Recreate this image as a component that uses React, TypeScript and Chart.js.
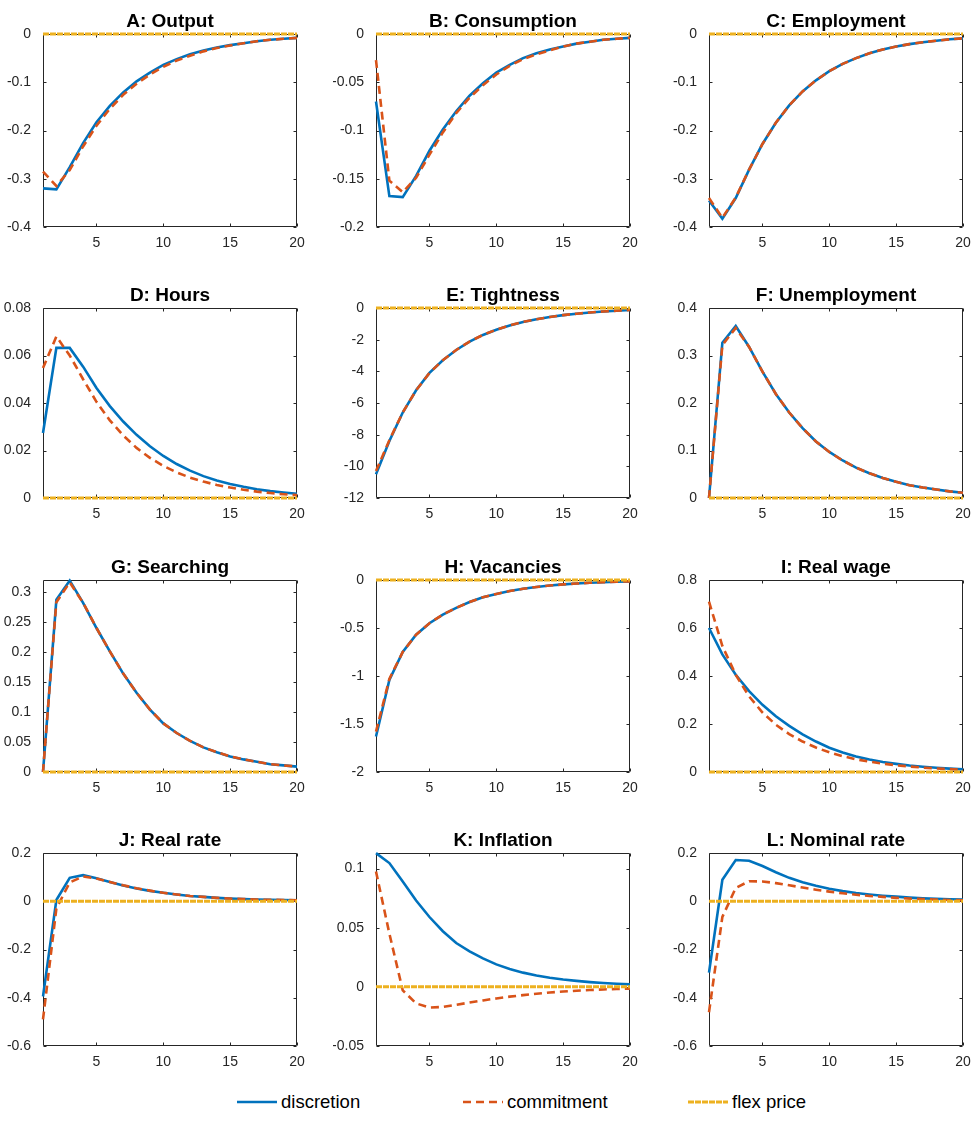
import React, { useEffect, useRef } from "react";
import { Chart, registerables } from "chart.js";
Chart.register(...registerables);

// ---------- data ----------
const periods = [1, 2, 3, 4, 5, 6, 7, 8, 9, 10, 11, 12, 13, 14, 15, 16, 17, 18, 19, 20];
const xTicks = [5, 10, 15, 20];
const flexPrice = [0, 0, 0, 0, 0, 0, 0, 0, 0, 0, 0, 0, 0, 0, 0, 0, 0, 0, 0, 0];

const seriesNames = ["discretion", "commitment", "flex price"];
const panelTitles = [
  "A: Output", "B: Consumption", "C: Employment",
  "D: Hours", "E: Tightness", "F: Unemployment",
  "G: Searching", "H: Vacancies", "I: Real wage",
  "J: Real rate", "K: Inflation", "L: Nominal rate",
];

const outputDiscretion = [-0.320, -0.322, -0.276, -0.226, -0.183, -0.149, -0.121, -0.098, -0.080, -0.064, -0.052, -0.042, -0.034, -0.028, -0.023, -0.019, -0.015, -0.012, -0.010, -0.008];
const outputCommitment = [-0.285, -0.315, -0.282, -0.233, -0.190, -0.155, -0.126, -0.103, -0.084, -0.068, -0.055, -0.045, -0.036, -0.029, -0.024, -0.019, -0.015, -0.012, -0.010, -0.008];
const outputTicks = [-0.4, -0.3, -0.2, -0.1, 0];
const outputLimits = [-0.4, 0];

const consumptionDiscretion = [-0.070, -0.168, -0.169, -0.147, -0.121, -0.099, -0.080, -0.064, -0.051, -0.040, -0.032, -0.025, -0.020, -0.016, -0.013, -0.010, -0.008, -0.006, -0.005, -0.004];
const consumptionCommitment = [-0.027, -0.152, -0.164, -0.149, -0.125, -0.102, -0.082, -0.066, -0.053, -0.042, -0.033, -0.026, -0.021, -0.017, -0.013, -0.010, -0.008, -0.006, -0.005, -0.004];
const consumptionTicks = [-0.2, -0.15, -0.1, -0.05, 0];
const consumptionLimits = [-0.2, 0];

const employmentDiscretion = [-0.345, -0.383, -0.340, -0.281, -0.228, -0.184, -0.148, -0.119, -0.096, -0.077, -0.062, -0.050, -0.040, -0.032, -0.026, -0.021, -0.017, -0.014, -0.011, -0.009];
const employmentCommitment = [-0.340, -0.381, -0.339, -0.281, -0.228, -0.184, -0.148, -0.119, -0.096, -0.077, -0.062, -0.050, -0.040, -0.032, -0.026, -0.021, -0.017, -0.014, -0.011, -0.009];
const employmentTicks = [-0.4, -0.3, -0.2, -0.1, 0];
const employmentLimits = [-0.4, 0];

const hoursDiscretion = [0.0274, 0.0632, 0.0632, 0.0553, 0.0463, 0.0387, 0.0322, 0.0266, 0.0218, 0.0177, 0.0143, 0.0115, 0.0092, 0.0074, 0.0059, 0.0047, 0.0037, 0.0029, 0.0023, 0.0018];
const hoursCommitment = [0.0547, 0.0680, 0.0600, 0.0500, 0.0405, 0.0327, 0.0263, 0.0211, 0.0169, 0.0135, 0.0108, 0.0086, 0.0069, 0.0055, 0.0044, 0.0035, 0.0027, 0.0021, 0.0016, 0.0012];
const hoursTicks = [0, 0.02, 0.04, 0.06, 0.08];
const hoursLimits = [0, 0.08];

const tightnessDiscretion = [-10.5, -8.4, -6.6, -5.2, -4.1, -3.3, -2.65, -2.12, -1.70, -1.37, -1.10, -0.88, -0.71, -0.57, -0.45, -0.36, -0.28, -0.22, -0.17, -0.12];
const tightnessCommitment = [-10.3, -8.35, -6.6, -5.2, -4.1, -3.3, -2.65, -2.12, -1.70, -1.37, -1.10, -0.88, -0.71, -0.57, -0.45, -0.36, -0.28, -0.22, -0.17, -0.12];
const tightnessTicks = [-12, -10, -8, -6, -4, -2, 0];
const tightnessLimits = [-12, 0];

const unemploymentDiscretion = [0, 0.327, 0.362, 0.318, 0.266, 0.219, 0.180, 0.147, 0.119, 0.097, 0.079, 0.064, 0.052, 0.042, 0.034, 0.027, 0.022, 0.018, 0.014, 0.011];
const unemploymentCommitment = [0, 0.322, 0.358, 0.318, 0.266, 0.219, 0.180, 0.147, 0.119, 0.097, 0.079, 0.064, 0.052, 0.042, 0.034, 0.027, 0.022, 0.018, 0.014, 0.011];
const unemploymentTicks = [0, 0.1, 0.2, 0.3, 0.4];
const unemploymentLimits = [0, 0.4];

const searchingDiscretion = [0, 0.287, 0.319, 0.282, 0.240, 0.201, 0.164, 0.132, 0.104, 0.081, 0.065, 0.052, 0.041, 0.033, 0.026, 0.021, 0.017, 0.013, 0.011, 0.009];
const searchingCommitment = [0, 0.283, 0.316, 0.282, 0.240, 0.201, 0.164, 0.132, 0.104, 0.081, 0.065, 0.052, 0.041, 0.033, 0.026, 0.021, 0.017, 0.013, 0.011, 0.009];
const searchingTicks = [0, 0.05, 0.1, 0.15, 0.2, 0.25, 0.3];
const searchingLimits = [0, 0.32];

const vacanciesDiscretion = [-1.63, -1.04, -0.75, -0.57, -0.45, -0.36, -0.29, -0.23, -0.18, -0.145, -0.115, -0.092, -0.073, -0.058, -0.046, -0.037, -0.029, -0.023, -0.018, -0.014];
const vacanciesCommitment = [-1.58, -1.03, -0.75, -0.57, -0.45, -0.36, -0.29, -0.23, -0.18, -0.145, -0.115, -0.092, -0.073, -0.058, -0.046, -0.037, -0.029, -0.023, -0.018, -0.014];
const vacanciesTicks = [-2, -1.5, -1, -0.5, 0];
const vacanciesLimits = [-2, 0];

const wageDiscretion = [0.600, 0.490, 0.405, 0.337, 0.280, 0.232, 0.192, 0.157, 0.127, 0.101, 0.081, 0.065, 0.052, 0.042, 0.034, 0.027, 0.022, 0.018, 0.014, 0.011];
const wageCommitment = [0.710, 0.525, 0.405, 0.315, 0.248, 0.197, 0.158, 0.127, 0.102, 0.082, 0.066, 0.053, 0.043, 0.035, 0.028, 0.023, 0.018, 0.015, 0.012, 0.009];
const wageTicks = [0, 0.2, 0.4, 0.6, 0.8];
const wageLimits = [0, 0.8];

const realRateDiscretion = [-0.395, 0.005, 0.097, 0.108, 0.095, 0.080, 0.065, 0.053, 0.043, 0.035, 0.028, 0.022, 0.018, 0.014, 0.011, 0.009, 0.007, 0.006, 0.005, 0.004];
const realRateCommitment = [-0.490, -0.030, 0.078, 0.103, 0.094, 0.080, 0.066, 0.054, 0.044, 0.035, 0.028, 0.022, 0.018, 0.014, 0.011, 0.009, 0.007, 0.006, 0.005, 0.004];
const realRateTicks = [-0.6, -0.4, -0.2, 0, 0.2];
const realRateLimits = [-0.6, 0.2];

const inflationDiscretion = [0.1130, 0.1046, 0.089, 0.073, 0.059, 0.047, 0.037, 0.030, 0.024, 0.019, 0.015, 0.012, 0.0095, 0.0077, 0.0062, 0.0050, 0.0040, 0.0032, 0.0026, 0.0021];
const inflationCommitment = [0.0975, 0.045, -0.003, -0.014, -0.0175, -0.017, -0.0152, -0.0133, -0.0115, -0.0098, -0.0083, -0.0070, -0.0058, -0.0048, -0.0040, -0.0033, -0.0027, -0.0022, -0.0018, -0.0015];
const inflationTicks = [-0.05, 0, 0.05, 0.1];
const inflationLimits = [-0.05, 0.1131];

const nominalRateDiscretion = [-0.296, 0.089, 0.171, 0.168, 0.146, 0.120, 0.097, 0.079, 0.064, 0.052, 0.042, 0.034, 0.028, 0.023, 0.019, 0.015, 0.012, 0.010, 0.008, 0.007];
const nominalRateCommitment = [-0.460, -0.065, 0.055, 0.083, 0.082, 0.075, 0.066, 0.057, 0.048, 0.040, 0.033, 0.027, 0.022, 0.018, 0.014, 0.011, 0.009, 0.007, 0.005, 0.004];
const nominalRateTicks = [-0.6, -0.4, -0.2, 0, 0.2];
const nominalRateLimits = [-0.6, 0.2];

const panelSeries = [
  [outputDiscretion, outputCommitment, outputTicks, outputLimits],
  [consumptionDiscretion, consumptionCommitment, consumptionTicks, consumptionLimits],
  [employmentDiscretion, employmentCommitment, employmentTicks, employmentLimits],
  [hoursDiscretion, hoursCommitment, hoursTicks, hoursLimits],
  [tightnessDiscretion, tightnessCommitment, tightnessTicks, tightnessLimits],
  [unemploymentDiscretion, unemploymentCommitment, unemploymentTicks, unemploymentLimits],
  [searchingDiscretion, searchingCommitment, searchingTicks, searchingLimits],
  [vacanciesDiscretion, vacanciesCommitment, vacanciesTicks, vacanciesLimits],
  [wageDiscretion, wageCommitment, wageTicks, wageLimits],
  [realRateDiscretion, realRateCommitment, realRateTicks, realRateLimits],
  [inflationDiscretion, inflationCommitment, inflationTicks, inflationLimits],
  [nominalRateDiscretion, nominalRateCommitment, nominalRateTicks, nominalRateLimits],
];

// ---------- styles / layout ----------
const BLUE = "#0072BD";
const RED = "#D95319";
const YELLOW = "#EDB120";
const AXIS = "#262626";
const FONT = "'Liberation Sans', Arial, Helvetica, sans-serif";

const colLefts = [43, 376, 709];
const colWidth = 254;
const rowTops = [34, 308, 580, 853];
const rowHeights = [193, 190, 192, 193];
const PAD_L = 43;
const PAD_T = 34;
const PAD_R = 36;
const PAD_B = 43;

const matlabAxes = {
  id: "matlabAxes",
  beforeDatasetsDraw(chart: any) {
    const { ctx, chartArea: a, scales } = chart;
    ctx.save();
    ctx.strokeStyle = AXIS;
    ctx.lineWidth = 1;
    const L = Math.round(a.left) + 0.5;
    const R = Math.round(a.right) - 0.5;
    const T = Math.round(a.top) + 0.5;
    const B = Math.round(a.bottom) - 0.5;
    ctx.beginPath();
    ctx.rect(L, T, R - L, B - T);
    const tl = 3;
    scales.x.ticks.forEach((t: any) => {
      const px = Math.round(scales.x.getPixelForValue(t.value)) + 0.5;
      ctx.moveTo(px, B);
      ctx.lineTo(px, B - tl);
      ctx.moveTo(px, T);
      ctx.lineTo(px, T + tl);
    });
    scales.y.ticks.forEach((t: any) => {
      const py = Math.round(scales.y.getPixelForValue(t.value)) + 0.5;
      ctx.moveTo(L, py);
      ctx.lineTo(L + tl, py);
      ctx.moveTo(R, py);
      ctx.lineTo(R - tl, py);
    });
    ctx.stroke();
    ctx.restore();
  },
  afterDraw(chart: any, _args: any, opts: any) {
    const { ctx, chartArea: a } = chart;
    ctx.save();
    ctx.fillStyle = "#000";
    ctx.font = `bold 19px ${FONT}`;
    ctx.textAlign = "center";
    ctx.textBaseline = "alphabetic";
    ctx.fillText(opts.title, (a.left + a.right) / 2, a.top - 7);
    ctx.restore();
  },
};

const fmt = (v: number) => String(parseFloat(Number(v).toFixed(6)));

function Panel({ index }: { index: number }) {
  const ref = useRef<HTMLCanvasElement>(null);
  const col = index % 3;
  const row = Math.floor(index / 3);
  const width = PAD_L + colWidth + PAD_R;
  const height = PAD_T + rowHeights[row] + PAD_B;
  useEffect(() => {
    const [disc, comm, ticks, limits] = panelSeries[index] as number[][];
    const toPts = (arr: number[]) => periods.map((p, i) => ({ x: p, y: arr[i] }));
    const chart = new Chart(ref.current as HTMLCanvasElement, {
      type: "line",
      data: {
        datasets: [
          {
            label: seriesNames[0], data: toPts(disc), borderColor: BLUE, borderWidth: 2.6,
            pointRadius: 0, tension: 0, order: 2, clip: false,
          },
          {
            label: seriesNames[1], data: toPts(comm), borderColor: RED, borderWidth: 2.6,
            borderDash: [8, 5], pointRadius: 0, tension: 0, order: 1, clip: false,
          },
          {
            label: seriesNames[2], data: toPts(flexPrice), borderColor: YELLOW, borderWidth: 3,
            borderDash: [6, 1], pointRadius: 0, tension: 0, order: 0, clip: false,
          },
        ],
      },
      options: {
        animation: false,
        responsive: false,
        devicePixelRatio: 1,
        events: [],
        layout: { padding: { left: 0, top: PAD_T, right: PAD_R, bottom: 0 } },
        plugins: {
          legend: { display: false },
          tooltip: { enabled: false },
          title: { display: false },
          matlabAxes: { title: panelTitles[index] },
        } as any,
        scales: {
          x: {
            type: "linear",
            min: 1,
            max: 20,
            grid: { display: false },
            border: { display: false },
            afterBuildTicks: (s: any) => { s.ticks = xTicks.map((v) => ({ value: v })); },
            afterFit: (s: any) => { s.height = PAD_B; },
            ticks: {
              color: AXIS, font: { family: FONT, size: 14 }, padding: 0,
              maxRotation: 0, autoSkip: false, callback: (v: any) => fmt(v),
            },
          },
          y: {
            type: "linear",
            min: limits[0],
            max: limits[1],
            grid: { display: false },
            border: { display: false },
            afterBuildTicks: (s: any) => { s.ticks = ticks.map((v) => ({ value: v })); },
            afterFit: (s: any) => { s.width = PAD_L; },
            ticks: {
              color: AXIS, font: { family: FONT, size: 14 }, padding: 4,
              autoSkip: false, callback: (v: any) => fmt(v),
            },
          },
        },
      },
      plugins: [matlabAxes],
    } as any);
    return () => chart.destroy();
  }, [index]);
  return (
    <canvas
      ref={ref}
      width={width}
      height={height}
      style={{
        position: "absolute",
        left: colLefts[col] - PAD_L,
        top: rowTops[row] - PAD_T,
        width,
        height,
      }}
    />
  );
}

function LegendItem({ x, color, dash, label }: { x: number; color: string; dash?: string; label: string }) {
  return (
    <div style={{ position: "absolute", left: x, top: 1090, height: 24, display: "flex", alignItems: "center" }}>
      <svg width={42} height={24} style={{ display: "block" }}>
        <line x1={1} y1={12} x2={41} y2={12} stroke={color} strokeWidth={dash === "6 1" ? 3 : 2.6} strokeDasharray={dash} />
      </svg>
      <span style={{ marginLeft: 3, fontFamily: FONT, fontSize: 18.5, color: "#000", lineHeight: "24px", whiteSpace: "nowrap" }}>
        {label}
      </span>
    </div>
  );
}

export default function App() {
  return (
    <div style={{ position: "absolute", left: 0, top: 0, width: 971, height: 1125, background: "#fff", overflow: "hidden" }}>
      {panelTitles.map((_, i) => (
        <Panel key={i} index={i} />
      ))}
      <LegendItem x={236} color={BLUE} label={seriesNames[0]} />
      <LegendItem x={462} color={RED} dash="8 5" label={seriesNames[1]} />
      <LegendItem x={687} color={YELLOW} dash="6 1" label={seriesNames[2]} />
    </div>
  );
}
